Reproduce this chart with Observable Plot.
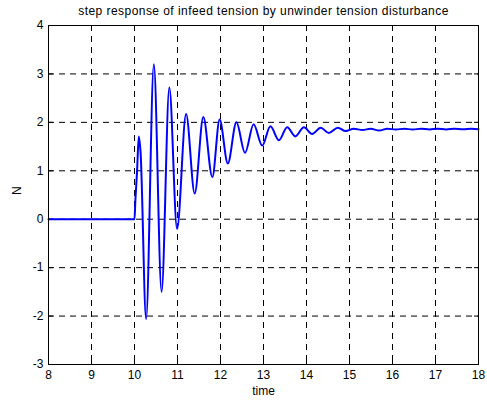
<!DOCTYPE html>
<html>
<head>
<meta charset="utf-8">
<script src="https://cdn.jsdelivr.net/npm/d3@7"></script>
<script src="https://cdn.jsdelivr.net/npm/@observablehq/plot@0.6"></script>
<style>
  html, body { margin: 0; padding: 0; background: #fff; }
  #chart svg { display: block; }
  .ttl { letter-spacing: 0.45px; }
</style>
</head>
<body>
<div id="chart"></div>
<script>
const titleText = "step response of infeed tension by unwinder tension disturbance";
const xLabel = "time";
const yLabel = "N";
const xTicks = [8, 9, 10, 11, 12, 13, 14, 15, 16, 17, 18];
const yTicks = [-3, -2, -1, 0, 1, 2, 3, 4];

const time = [8, 10.0, 10.02, 10.06, 10.10, 10.14, 10.27, 10.45, 10.63, 10.81, 10.99,
  11.20, 11.40, 11.60, 11.81, 11.98, 12.17, 12.37, 12.57, 12.77, 12.97,
  13.16, 13.36, 13.55, 13.74, 13.94, 14.13, 14.33, 14.52, 14.73, 14.91,
  15.10, 15.30, 15.49, 15.69, 15.88, 16.08, 16.27, 16.47, 16.66, 16.86,
  17.05, 17.25, 17.44, 17.64, 17.83, 18.0];
const tension = [0, 0, 0.38, 1.0, 1.71, 1.40, -2.06, 3.2, -1.50, 2.72, -0.20,
  2.17, 0.53, 2.11, 0.87, 2.06, 1.15, 2.00, 1.37, 1.96, 1.52,
  1.92, 1.63, 1.90, 1.71, 1.90, 1.76, 1.89, 1.78, 1.89, 1.82,
  1.87, 1.84, 1.87, 1.83, 1.87, 1.85, 1.87, 1.85, 1.87, 1.855,
  1.87, 1.855, 1.87, 1.86, 1.87, 1.86];

const data = time.map((t, i) => ({t, v: tension[i]}));

const plot = Plot.plot({
  width: 487,
  height: 401,
  marginLeft: 48,
  marginRight: 9,
  marginTop: 25,
  marginBottom: 37,
  style: {fontFamily: "'Liberation Sans', Arial, sans-serif", fontSize: "12px", color: "#000", background: "#fff"},
  x: {domain: [8, 18], ticks: xTicks, label: null},
  y: {domain: [-3, 4], ticks: yTicks, label: null},
  marks: [
    Plot.ruleX(xTicks.slice(1, -1), {stroke: "#000", strokeWidth: 1, strokeDasharray: "6,5"}),
    Plot.ruleY(yTicks.slice(1, -1), {stroke: "#000", strokeWidth: 1, strokeDasharray: "6,5"}),
    Plot.axisX({ticks: xTicks, tickSize: -5, tickPadding: 11, tickFormat: d => String(d), fontSize: 12, label: null}),
    Plot.axisX({anchor: "top", ticks: xTicks, tickSize: -5, tickFormat: () => "", label: null}),
    Plot.axisY({ticks: yTicks, tickSize: -5, tickPadding: 10, tickFormat: d => String(d), fontSize: 12, label: null}),
    Plot.axisY({anchor: "right", ticks: yTicks, tickSize: -5, tickFormat: () => "", label: null}),
    Plot.line(data, {x: "t", y: "v", stroke: "#0000ff", strokeWidth: 2, curve: "monotone-x"}),
    Plot.frame({stroke: "#000", strokeWidth: 1}),
    Plot.text([titleText], {frameAnchor: "top", lineAnchor: "middle", dy: -14, fontSize: 12, fill: "#000", className: "ttl"}),
    Plot.text([xLabel], {frameAnchor: "bottom", lineAnchor: "middle", dy: 27, fontSize: 12, fill: "#000"}),
    Plot.text([yLabel], {frameAnchor: "left", dx: -31, rotate: -90, fontSize: 12, fill: "#000"})
  ]
});
document.getElementById("chart").appendChild(plot);
</script>
</body>
</html>
